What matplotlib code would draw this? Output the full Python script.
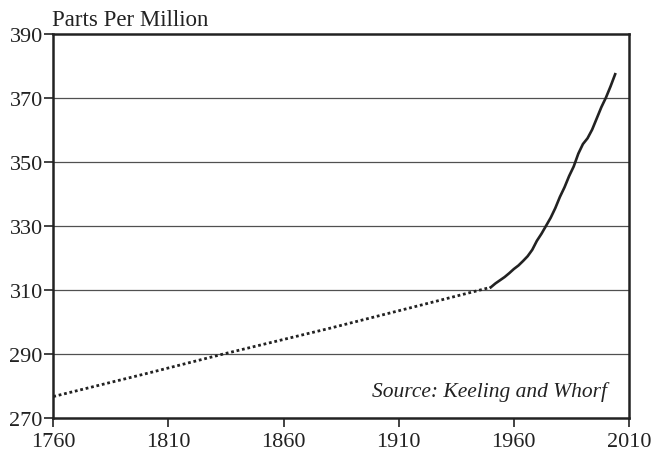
import matplotlib
matplotlib.use("Agg")
import matplotlib.pyplot as plt

# pre-industrial estimate (dotted)
early_years = [1760, 1800, 1834, 1880, 1920, 1950]
early_ppm = [276.7, 283.8, 290.0, 298.0, 305.3, 310.8]

# measured record (solid)
recent_years = [1950, 1952, 1954, 1956, 1958, 1960, 1962, 1964, 1966, 1968,
                1970, 1972, 1974, 1976, 1978, 1980, 1982, 1984, 1986, 1988,
                1990, 1992, 1994, 1996, 1998, 2000, 2002, 2004]
recent_ppm = [310.8, 312.0, 313.0, 314.0, 315.2, 316.5, 317.6, 319.0, 320.5, 322.5,
              325.3, 327.5, 330.0, 332.5, 335.5, 339.0, 342.0, 345.5, 348.5, 352.5,
              355.5, 357.3, 360.0, 363.5, 367.0, 370.0, 373.5, 377.3]

x_ticks = [1760, 1810, 1860, 1910, 1960, 2010]
y_ticks = [270, 290, 310, 330, 350, 370, 390]

plt.rcParams['font.family'] = ['Liberation Serif', 'DejaVu Serif']

fig = plt.figure(figsize=(6.53, 4.56), dpi=100)
ax = fig.add_axes([0.0816, 0.0811, 0.8816, 0.8432])

ink = '#222222'
for yv in y_ticks[1:-1]:
    ax.axhline(yv, color='#505050', lw=0.9, zorder=1)

ax.plot(early_years, early_ppm, color=ink, lw=2.0, linestyle=(0, (1, 1)),
        dash_capstyle='butt', zorder=3)
ax.plot(recent_years, recent_ppm, color=ink, lw=1.9, zorder=3)

ax.set_xlim(1760, 2010)
ax.set_ylim(270, 390)
ax.set_xticks(x_ticks)
ax.set_yticks(y_ticks)
ax.tick_params(axis='both', direction='out', length=6.5, width=1.2, color=ink,
               labelsize=16, labelcolor=ink)
ax.tick_params(axis='y', pad=1)
ax.tick_params(axis='x', pad=3.5)

for s in ax.spines.values():
    s.set_linewidth(1.8)
    s.set_color(ink)

fig.text(0.08, 0.943, 'Parts Per Million', fontsize=16.5, color=ink,
         ha='left', va='baseline')
ax.text(0.962, 0.057, 'Source: Keeling and Whorf', transform=ax.transAxes,
        fontsize=15.5, style='italic', color=ink, ha='right', va='baseline')

fig.savefig('out.png', dpi=100)
